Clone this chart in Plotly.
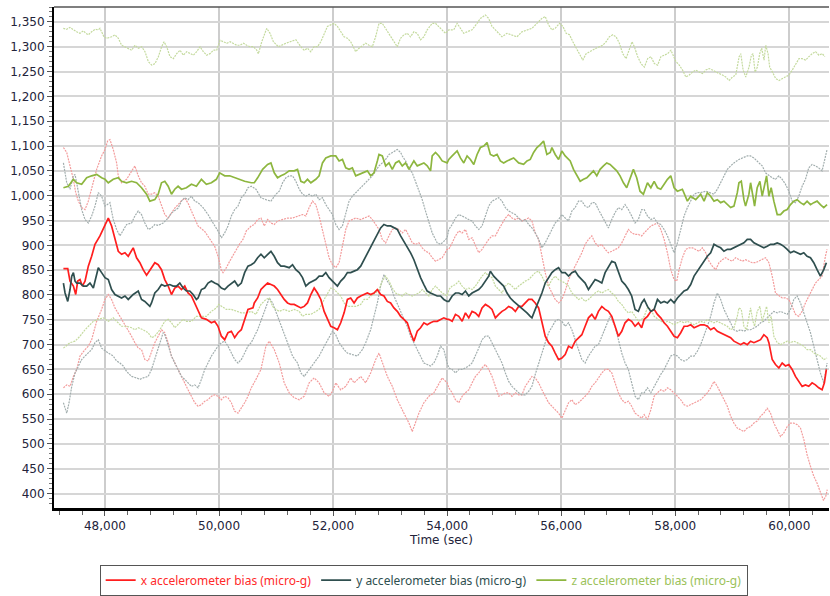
import plotly.graph_objects as go

# ---------------- data (time in sec, bias in micro-g) ----------------
X_MEAN = [(47271,853),(47347,853),(47387,828),(47446,818),(47487,801),(47522,828),(47562,831),(47603,818),(47650,828),(47708,858),(47766,878),(47825,902),(47912,919),(48000,939),(48058,955),(48116,939),(48175,912),(48233,888),(48291,882),(48350,885),(48408,878),(48495,895),(48554,875),(48612,865),(48670,851),(48729,840),(48787,850),(48874,865),(48933,861),(48991,851),(49049,831),(49108,818),(49166,801),(49224,814),(49282,818),(49341,811),(49399,818),(49457,804),(49516,798),(49574,784),(49632,767),(49691,754),(49778,751),(49866,744),(49924,747),(49982,737),(50041,717),(50099,710),(50157,724),(50216,727),(50274,714),(50332,724),(50391,730),(50449,751),(50507,771),(50595,774),
          (50618,784),(50677,794),(50735,811),(50793,818),(50852,824),(50910,821),(50968,818),(51026,811),(51085,801),(51143,791),(51201,784),(51260,781),(51318,781),(51376,777),(51435,774),(51493,777),(51551,784),(51610,801),(51668,814),(51726,804),(51785,791),(51843,767),(51901,751),(51959,737),(52018,734),(52076,730),(52134,744),(52193,764),(52251,791),(52309,794),(52368,784),(52426,794),(52484,798),(52543,801),(52601,804),(52659,801),(52717,804),(52776,811),(52834,801),(52892,798),(52951,787),(53009,784),(53067,774),(53126,767),(53184,757),(53242,751),(53301,744),(53359,724),(53417,707),(53476,727),(53534,734),(53592,744),(53650,740),(53709,744),(53767,747),(53825,747),(53884,751),(53942,754),(54000,751),
          (54029,751),(54088,747),(54146,761),(54204,757),(54263,747),(54321,764),(54379,754),(54437,767),(54496,764),(54554,757),(54612,774),(54671,781),(54729,777),(54787,771),(54846,754),(54904,761),(54962,767),(55021,771),(55079,777),(55137,774),(55196,767),(55254,777),(55312,777),(55370,784),(55429,791),(55487,791),(55545,784),(55604,774),(55662,747),(55720,717),(55779,704),(55837,697),(55895,683),(55954,670),(56012,673),(56070,680),(56129,697),(56187,693),(56245,707),(56303,714),(56362,720),(56420,737),(56478,754),(56537,761),(56595,751),(56653,767),(56712,777),(56770,771),(56828,767),(56887,757),(56945,737),(57003,717),(57062,727),(57120,744),(57178,751),(57236,747),(57295,737),(57353,744),(57411,734),
          (57455,751),(57513,757),(57572,767),(57630,771),(57688,761),(57746,754),(57805,744),(57863,737),(57921,727),(57980,717),(58038,714),(58096,724),(58155,737),(58213,737),(58271,740),(58330,734),(58388,737),(58446,740),(58505,740),(58563,737),(58621,730),(58679,734),(58738,727),(58796,724),(58854,720),(58913,717),(58971,714),(59029,707),(59088,704),(59146,700),(59204,704),(59263,700),(59321,707),(59379,704),(59437,707),(59496,710),(59554,720),(59612,714),(59642,704),(59671,690),(59700,670),(59758,660),(59817,653),(59875,663),(59933,657),(59992,660),(60050,650),(60108,636),(60166,626),(60225,616),(60283,619),(60341,616),(60400,623),(60458,619),(60516,613),(60575,609),(60615,623),(60650,650)]

X_UPPER = [(47271,1097),(47329,1087),(47387,1060),(47446,1033),(47487,1006),(47533,989),(47591,976),(47650,972),(47708,989),(47766,1013),(47854,1053),(47941,1080),(48000,1093),(48046,1110),(48087,1113),(48145,1093),(48204,1066),(48233,1040),(48291,1026),(48379,1033),(48466,1050),(48524,1060),(48583,1040),(48641,1026),(48699,1019),(48758,1003),(48816,1003),(48874,1006),(48933,999),(48991,979),(49049,962),(49108,955),(49166,965),(49224,975),(49282,982),(49341,990),(49399,995),(49457,985),(49516,969),(49574,952),(49632,939),(49749,928),(49836,912),(49924,898),(49982,878),(50041,850),(50070,845),(50128,855),(50187,868),(50245,880),(50303,893),(50362,903),(50420,912),(50478,929),(50565,939),
           (50618,942),(50677,952),(50735,955),(50793,939),(50852,952),(50910,945),(50968,942),(51026,949),(51114,952),(51201,955),(51289,955),(51376,959),(51464,962),(51522,959),(51580,976),(51639,989),(51697,982),(51755,959),(51814,932),(51872,902),(51930,875),(51989,861),(52047,855),(52105,865),(52164,902),(52222,932),(52280,949),(52338,952),(52397,955),(52484,952),(52543,955),(52630,959),(52688,952),(52747,942),(52805,932),(52863,912),(52922,905),(52980,919),(53038,932),(53096,935),(53155,932),(53213,925),(53271,932),(53330,919),(53388,905),(53446,902),(53505,905),(53563,895),(53621,888),(53680,885),(53738,875),(53796,868),(53855,871),(53913,875),(54000,892),
           (54029,892),(54088,905),(54146,919),(54204,929),(54263,925),(54321,932),(54379,912),(54437,915),(54496,898),(54554,885),(54612,892),(54671,902),(54729,912),(54787,919),(54846,919),(54904,932),(54962,945),(55021,955),(55079,962),(55137,955),(55196,952),(55254,955),(55312,949),(55370,952),(55429,955),(55487,949),(55545,925),(55604,912),(55662,878),(55720,845),(55779,818),(55837,804),(55895,791),(55954,784),(56012,791),(56070,808),(56129,831),(56187,845),(56245,858),(56303,871),(56362,885),(56420,902),(56478,912),(56537,919),(56595,905),(56653,898),(56712,902),(56770,892),(56828,885),(56887,888),(56945,892),(57003,895),(57062,905),(57120,919),(57178,932),(57236,925),(57295,922),(57353,922),(57411,919),
           (57455,925),(57513,932),(57572,939),(57630,942),(57688,945),(57746,932),(57805,912),(57863,885),(57921,851),(57980,831),(58026,828),(58067,851),(58125,875),(58184,892),(58242,895),(58300,895),(58359,892),(58417,888),(58475,895),(58534,885),(58592,868),(58650,858),(58709,851),(58767,865),(58825,871),(58884,875),(58942,871),(59000,868),(59058,875),(59117,871),(59175,868),(59233,871),(59292,868),(59350,865),(59408,865),(59467,868),(59525,871),(59583,875),(59642,865),(59700,838),(59758,804),(59817,798),(59875,794),(59933,794),(59992,791),(60050,777),(60108,761),(60166,757),(60225,767),(60283,784),(60341,798),(60400,811),(60458,824),(60516,831),(60575,838),(60633,878),(60662,892)]

X_LOWER = [(47271,613),(47329,619),(47387,616),(47446,636),(47504,650),(47562,677),(47650,690),(47708,697),(47766,710),(47854,747),(47941,771),(48000,791),(48058,801),(48116,791),(48175,774),(48262,757),(48350,740),(48408,730),(48466,717),(48524,704),(48583,693),(48641,690),(48699,670),(48758,667),(48816,687),(48874,704),(48933,717),(48991,730),(49049,724),(49108,704),(49166,677),(49224,663),(49282,650),(49341,636),(49399,623),(49457,609),(49516,596),(49574,583),(49632,576),(49691,579),(49749,586),(49807,589),(49866,596),(49924,599),(49982,596),(50041,589),(50099,596),(50157,593),(50216,583),(50274,566),(50332,562),(50391,572),(50449,583),(50507,596),(50565,613),
           (50647,630),(50735,650),(50822,697),(50881,707),(50968,690),(51056,663),(51143,623),(51231,603),(51318,593),(51406,589),(51493,596),(51580,623),(51668,633),(51755,623),(51843,603),(51930,596),(51989,606),(52047,623),(52134,609),(52222,616),(52309,633),(52368,623),(52484,636),(52572,623),(52659,643),(52747,670),(52805,683),(52863,663),(52951,636),(53038,616),(53126,589),(53242,562),(53330,542),(53388,525),(53446,542),(53505,562),(53592,583),(53680,596),(53767,603),(53855,623),(53913,633),(54000,623),
           (54029,613),(54088,603),(54146,589),(54204,583),(54263,596),(54321,603),(54379,609),(54437,623),(54496,636),(54554,643),(54612,653),(54671,660),(54729,650),(54787,636),(54846,616),(54904,596),(54962,599),(55021,603),(55079,603),(55137,596),(55196,603),(55254,599),(55312,599),(55370,616),(55429,626),(55487,636),(55545,633),(55604,623),(55662,609),(55720,596),(55779,583),(55837,576),(55895,569),(55954,562),(56012,552),(56070,569),(56129,583),(56187,589),(56245,579),(56303,583),(56362,589),(56420,596),(56478,603),(56537,616),(56595,623),(56653,633),(56712,643),(56770,650),(56828,650),(56887,643),(56945,623),(57003,603),(57062,589),(57120,583),(57178,586),(57236,576),(57295,562),(57353,556),(57411,552),
           (57455,559),(57513,549),(57572,569),(57630,596),(57688,603),(57746,609),(57805,606),(57863,613),(57921,609),(57980,603),(58038,596),(58096,589),(58155,579),(58213,576),(58271,579),(58330,583),(58388,586),(58446,589),(58505,596),(58563,603),(58621,613),(58679,626),(58738,616),(58796,603),(58854,589),(58913,576),(58971,556),(59029,542),(59088,532),(59146,529),(59204,525),(59263,532),(59321,535),(59379,542),(59437,546),(59496,556),(59554,562),(59612,572),(59671,562),(59729,542),(59788,529),(59846,515),(59904,522),(59963,535),(60021,542),(60079,542),(60137,539),(60196,532),(60254,509),(60312,478),(60371,455),(60429,435),(60487,421),(60545,405),(60600,386),(60640,395),(60665,408)]

Y_MEAN = [(47271,824),(47300,804),(47347,787),(47387,811),(47417,838),(47446,845),(47475,828),(47504,824),(47562,824),(47621,818),(47679,818),(47737,824),(47796,814),(47854,845),(47883,855),(47941,845),(48000,835),(48058,831),(48116,811),(48175,801),(48233,798),(48291,794),(48350,798),(48408,791),(48495,801),(48583,808),(48641,791),(48699,787),(48787,777),(48816,784),(48874,804),(48933,811),(48991,821),(49049,818),(49137,821),(49195,818),(49253,818),(49312,824),(49370,814),(49428,808),(49487,808),(49545,801),(49603,791),(49632,794),(49691,811),(49749,814),(49807,824),(49866,828),(49924,824),(49982,821),(50041,814),(50099,811),(50157,818),(50216,824),(50274,828),(50332,818),(50391,824),(50449,845),(50507,858),(50565,861),
          (50618,865),(50677,875),(50735,882),(50793,875),(50852,882),(50910,888),(50968,878),(51026,865),(51085,858),(51143,858),(51230,855),(51289,861),(51347,851),(51406,845),(51464,835),(51522,818),(51580,824),(51639,828),(51697,831),(51755,838),(51814,838),(51872,845),(51930,835),(51989,828),(52076,818),(52134,828),(52193,835),(52251,845),(52309,845),(52368,848),(52426,851),(52484,858),(52543,871),(52601,885),(52659,895),(52717,908),(52776,922),(52834,935),(52892,942),(52951,939),(53009,939),(53067,935),(53126,932),(53184,919),(53242,908),(53301,898),(53359,885),(53417,871),(53476,851),(53534,835),(53592,821),(53650,808),(53709,804),(53767,801),(53825,798),(53884,798),(53942,791),(54000,787),
          (54029,787),(54088,798),(54146,804),(54204,804),(54263,801),(54321,808),(54379,798),(54437,804),(54496,808),(54554,811),(54612,818),(54671,828),(54729,838),(54758,848),(54816,838),(54875,831),(54933,824),(54991,818),(55050,804),(55108,794),(55166,787),(55225,781),(55283,777),(55341,771),(55400,764),(55458,757),(55487,754),(55545,771),(55604,787),(55662,804),(55720,824),(55779,835),(55837,845),(55895,851),(55954,855),(56012,845),(56070,845),(56129,838),(56187,845),(56245,848),(56303,838),(56362,831),(56420,824),(56478,811),(56537,821),(56595,831),(56653,828),(56712,824),(56770,845),(56828,858),(56887,868),(56945,865),(57003,848),(57062,828),(57120,821),(57178,811),(57236,798),(57295,771),(57353,767),(57411,784),
          (57455,791),(57513,777),(57572,767),(57630,771),(57688,791),(57746,784),(57805,787),(57863,784),(57921,791),(57980,784),(58038,794),(58096,801),(58155,808),(58213,811),(58271,821),(58330,838),(58388,848),(58446,858),(58505,868),(58563,878),(58621,885),(58679,902),(58738,898),(58796,895),(58854,888),(58913,892),(58971,892),(59029,895),(59088,898),(59146,902),(59204,905),(59263,912),(59321,912),(59379,905),(59437,902),(59496,898),(59554,895),(59612,898),(59671,902),(59729,902),(59788,905),(59846,902),(59904,898),(59963,892),(60021,885),(60079,888),(60137,885),(60196,882),(60254,885),(60312,878),(60371,875),(60429,865),(60487,851),(60545,838),(60604,851),(60650,865)]

Y_UPPER = [(47271,1066),(47329,1026),(47387,1013),(47446,1040),(47475,1043),(47533,1006),(47591,972),(47650,952),(47708,945),(47766,959),(47825,979),(47883,1006),(47941,999),(48000,979),(48087,986),(48145,952),(48204,932),(48262,919),(48320,932),(48379,942),(48466,945),(48524,959),(48583,969),(48641,962),(48699,945),(48758,932),(48816,935),(48874,942),(48933,940),(49020,945),(49108,955),(49166,965),(49224,970),(49282,975),(49341,989),(49399,996),(49457,992),(49516,999),(49574,989),(49632,986),(49720,976),(49807,962),(49895,945),(49982,929),(50041,915),(50099,925),(50157,939),(50216,959),(50274,972),(50332,979),(50391,996),(50449,1003),(50507,1016),(50565,1019),
           (50647,1013),(50735,996),(50822,992),(50910,989),(50997,1003),(51056,1009),(51114,1026),(51172,1036),(51231,1040),(51289,1040),(51347,1029),(51406,1013),(51464,1003),(51522,999),(51580,1003),(51639,999),(51697,1003),(51755,992),(51814,996),(51872,982),(51930,972),(51989,962),(52047,942),(52105,932),(52164,939),(52222,962),(52280,989),(52338,999),(52397,1006),(52455,1013),(52543,1023),(52630,1033),(52688,1040),(52747,1050),(52805,1060),(52863,1066),(52922,1073),(52980,1083),(53067,1090),(53126,1093),(53184,1087),(53213,1080),(53271,1070),(53330,1056),(53388,1046),(53446,1029),(53505,1009),(53563,992),(53621,969),(53680,945),(53738,925),(53825,905),(53884,902),(53942,908),(54000,915),
           (54029,932),(54088,942),(54146,955),(54204,962),(54263,959),(54321,955),(54379,952),(54437,949),(54496,939),(54554,932),(54612,939),(54671,959),(54729,979),(54787,989),(54846,992),(54904,996),(54962,989),(55021,976),(55079,969),(55137,966),(55196,962),(55254,955),(55312,949),(55370,952),(55429,942),(55487,935),(55545,925),(55604,912),(55662,895),(55720,905),(55779,919),(55837,932),(55895,945),(55954,952),(56012,962),(56070,955),(56129,949),(56187,969),(56245,976),(56303,989),(56362,989),(56420,979),(56478,976),(56537,986),(56595,986),(56653,972),(56712,959),(56770,949),(56828,935),(56887,952),(56945,966),(57003,976),(57062,972),(57120,982),(57178,972),(57236,959),(57295,945),(57353,952),(57411,972),
           (57455,972),(57513,959),(57572,952),(57630,955),(57688,945),(57746,942),(57805,932),(57863,919),(57921,902),(57980,885),(58038,905),(58096,932),(58155,959),(58213,976),(58271,989),(58330,1003),(58388,1006),(58446,1006),(58534,1009),(58621,1006),(58679,1003),(58738,1013),(58796,1026),(58854,1040),(58913,1053),(58971,1060),(59029,1066),(59117,1073),(59175,1076),(59263,1080),(59321,1080),(59379,1076),(59467,1066),(59525,1060),(59583,1046),(59642,1040),(59700,1036),(59758,1033),(59817,1040),(59875,1033),(59933,1023),(59992,1009),(60050,989),(60108,986),(60166,999),(60225,1019),(60283,1033),(60341,1056),(60400,1063),(60458,1060),(60516,1056),(60575,1050),(60633,1080),(60662,1093)]

Y_LOWER = [(47271,583),(47329,562),(47370,583),(47417,616),(47475,643),(47533,657),(47591,670),(47650,677),(47708,683),(47766,690),(47825,704),(47883,710),(47941,693),(48000,687),(48058,683),(48145,677),(48204,667),(48262,663),(48320,657),(48379,646),(48466,636),(48554,633),(48612,630),(48670,633),(48758,636),(48816,650),(48874,670),(48933,690),(48991,710),(49020,724),(49049,720),(49108,697),(49166,677),(49224,663),(49282,650),(49341,636),(49399,630),(49457,623),(49516,616),(49574,619),(49632,613),(49691,630),(49749,650),(49807,663),(49866,677),(49924,687),(49982,697),(50041,704),(50099,707),(50157,697),(50216,683),(50274,670),(50332,663),(50391,670),(50449,683),(50507,697),(50565,704),
           (50618,717),(50677,730),(50764,757),(50881,794),(50939,784),(51026,757),(51114,730),(51201,704),(51289,677),(51376,663),(51435,643),(51493,636),(51580,650),(51668,663),(51755,677),(51814,690),(51901,710),(51989,727),(52047,720),(52105,704),(52193,690),(52251,683),(52338,680),(52426,677),(52513,690),(52572,704),(52659,730),(52717,757),(52776,784),(52834,818),(52892,841),(52951,828),(53009,818),(53067,798),(53126,784),(53184,767),(53242,751),(53301,737),(53359,717),(53417,704),(53476,690),(53534,677),(53592,663),(53650,660),(53709,657),(53767,663),(53825,677),(53884,697),(53942,690),(54000,663),
           (54029,653),(54088,650),(54146,643),(54204,650),(54263,650),(54321,653),(54379,657),(54437,663),(54496,677),(54554,693),(54612,710),(54671,717),(54729,717),(54787,704),(54846,690),(54904,677),(54962,663),(55021,643),(55079,626),(55137,616),(55196,609),(55254,603),(55312,599),(55370,599),(55429,606),(55487,616),(55545,640),(55604,663),(55662,683),(55720,704),(55779,724),(55837,737),(55895,747),(55954,751),(56012,747),(56070,737),(56129,744),(56187,730),(56245,710),(56303,690),(56362,670),(56420,663),(56478,677),(56537,687),(56595,697),(56653,700),(56712,717),(56770,734),(56828,747),(56857,757),(56887,751),(56945,737),(57003,710),(57062,683),(57120,663),(57178,650),(57236,623),(57295,596),(57353,589),(57411,603),
           (57455,603),(57513,613),(57572,603),(57630,616),(57688,630),(57746,640),(57805,650),(57863,663),(57921,677),(57980,680),(58038,677),(58096,670),(58155,667),(58213,670),(58271,677),(58330,677),(58388,687),(58446,700),(58505,717),(58563,737),(58621,757),(58679,784),(58738,804),(58796,791),(58854,771),(58913,757),(58971,744),(59029,730),(59088,727),(59146,730),(59204,727),(59263,730),(59321,730),(59379,734),(59437,737),(59496,744),(59554,747),(59612,754),(59671,761),(59729,767),(59788,764),(59846,767),(59904,764),(59963,761),(60021,771),(60079,791),(60137,798),(60196,784),(60254,764),(60312,744),(60371,724),(60429,697),(60487,670),(60545,643),(60604,623),(60633,643),(60662,663)]

Z_MEAN = [(47271,1016),(47358,1019),(47446,1033),(47504,1026),(47591,1023),(47679,1036),(47766,1040),(47854,1043),(47941,1036),(48000,1033),(48058,1026),(48145,1033),(48233,1036),(48291,1029),(48379,1026),(48466,1029),(48554,1026),(48641,1016),(48729,1003),(48787,989),(48874,992),(48933,1003),(48991,1026),(49049,1029),(49108,1019),(49166,1003),(49224,1013),(49282,1019),(49341,1013),(49428,1016),(49516,1023),(49603,1019),(49691,1033),(49778,1023),(49866,1026),(49953,1033),(50011,1046),(50099,1040),(50187,1040),(50274,1036),(50362,1033),(50449,1029),(50565,1026),
          (50618,1026),(50677,1036),(50764,1053),(50852,1063),(50910,1066),(50968,1046),(51026,1036),(51085,1040),(51143,1043),(51230,1050),(51318,1050),(51376,1053),(51435,1029),(51493,1026),(51551,1033),(51610,1026),(51697,1033),(51755,1040),(51814,1066),(51872,1076),(51959,1080),(52047,1080),(52105,1070),(52164,1073),(52222,1056),(52280,1053),(52338,1056),(52397,1040),(52455,1043),(52513,1046),(52601,1050),(52659,1040),(52717,1046),(52776,1070),(52805,1083),(52863,1080),(52922,1060),(52980,1066),(53038,1053),(53096,1066),(53155,1070),(53213,1060),(53271,1066),(53330,1053),(53417,1070),(53476,1060),(53534,1063),(53592,1066),(53650,1060),(53709,1050),(53738,1080),(53796,1087),(53855,1080),(53913,1070),(54000,1066),
          (54029,1073),(54088,1080),(54175,1090),(54233,1076),(54292,1066),(54350,1080),(54408,1073),(54467,1063),(54525,1083),(54583,1097),(54642,1100),(54700,1107),(54758,1083),(54816,1080),(54875,1083),(54933,1070),(54991,1066),(55050,1070),(55108,1073),(55166,1076),(55254,1066),(55341,1063),(55400,1070),(55458,1073),(55516,1087),(55575,1097),(55633,1103),(55691,1110),(55749,1083),(55808,1087),(55837,1097),(55895,1083),(55954,1073),(56012,1090),(56070,1080),(56158,1070),(56216,1053),(56274,1040),(56333,1029),(56391,1033),(56449,1036),(56507,1043),(56566,1050),(56624,1040),(56682,1053),(56741,1060),(56799,1066),(56857,1063),(56916,1056),(56974,1050),(57032,1040),(57091,1026),(57149,1016),(57207,1033),(57266,1053),(57324,1036),(57382,1009),(57441,1003),
          (57513,1026),(57572,1016),(57630,1029),(57688,1016),(57746,1013),(57805,1023),(57863,1033),(57921,1040),(57980,1016),(58038,1009),(58125,1013),(58213,989),(58271,999),(58359,992),(58446,1003),(58505,989),(58563,1006),(58621,999),(58679,989),(58738,992),(58796,986),(58854,989),(58913,982),(58971,976),(59029,979),(59088,1006),(59117,1026),(59158,1029),(59204,992),(59233,979),(59292,1003),(59321,1026),(59362,999),(59391,979),(59437,1016),(59484,1029),(59525,999),(59566,1023),(59601,1040),(59642,999),(59682,1016),(59729,989),(59788,962),(59846,962),(59904,969),(59963,972),(60021,982),(60079,989),(60137,992),(60196,986),(60254,982),(60312,989),(60371,982),(60429,986),(60487,989),(60545,982),(60604,976),(60662,982)]

Z_UPPER = [(47269,1337),(47327,1335),(47386,1339),(47444,1334),(47503,1330),(47561,1327),(47620,1332),(47667,1327),(47708,1324),(47766,1330),(47825,1335),(47883,1334),(47912,1337),(47942,1330),(47982,1320),(48029,1317),(48117,1320),(48175,1324),(48234,1317),(48292,1303),(48351,1300),(48409,1297),(48468,1293),(48526,1303),(48585,1297),(48643,1300),(48702,1290),(48760,1270),(48819,1263),(48877,1266),(48936,1280),(48994,1300),(49035,1310),(49082,1300),(49140,1280),(49199,1276),(49257,1286),(49316,1293),(49374,1283),(49433,1290),(49491,1286),(49550,1283),(49608,1290),(49667,1300),(49725,1290),(49784,1283),(49842,1286),(49901,1293),(49959,1293),(50018,1313),(50076,1310),(50135,1307),(50193,1310),(50251,1307),(50310,1303),(50368,1303),(50427,1307),(50485,1303),(50544,1300),(50602,1300),(50661,1293),(50690,1286),(50749,1310),(50836,1337),(50895,1327),(50953,1310),(51041,1300),
           (51172,1307),(51260,1310),(51347,1314),(51434,1300),(51493,1293),(51551,1297),(51609,1290),(51668,1300),(51726,1300),(51784,1310),(51843,1327),(51901,1341),(51959,1344),(52017,1347),(52076,1341),(52134,1330),(52192,1320),(52251,1317),(52309,1310),(52367,1297),(52396,1290),(52455,1297),(52513,1303),(52571,1307),(52630,1303),(52688,1300),(52746,1320),(52805,1347),(52863,1347),(52921,1337),(52979,1327),(53038,1317),(53096,1307),(53125,1300),(53183,1317),(53242,1324),(53300,1327),(53358,1320),(53417,1330),(53475,1327),(53533,1314),(53592,1320),(53650,1334),(53737,1347),(53796,1347),(53854,1341),(53912,1334),(53971,1327),(54029,1334),(54116,1334),(54175,1347),(54233,1337),(54291,1327),(54349,1330),(54437,1334),(54524,1347),(54583,1357),(54670,1364),(54728,1357),(54787,1341),(54845,1334),(54903,1327),(54962,1320),(55049,1327),(55137,1324),(55224,1320),(55311,1330),(55399,1334),(55486,1337),(55574,1347),(55661,1357),(55720,1361),(55778,1344),(55836,1334),(55894,1337),
           (55971,1347),(56029,1341),(56087,1327),(56146,1324),(56204,1310),(56262,1297),(56321,1283),(56379,1273),(56437,1286),(56496,1290),(56554,1293),(56612,1297),(56671,1300),(56729,1303),(56787,1310),(56845,1320),(56904,1324),(56962,1320),(57020,1307),(57079,1286),(57137,1276),(57195,1293),(57242,1310),(57283,1300),(57341,1280),(57399,1266),(57458,1259),(57516,1276),(57574,1280),(57633,1266),(57691,1263),(57749,1280),(57808,1283),(57866,1286),(57924,1293),(57965,1283),(58012,1270),(58070,1263),(58128,1253),(58187,1239),(58245,1243),(58303,1249),(58362,1253),(58420,1249),(58478,1246),(58536,1253),(58595,1256),(58653,1253),(58711,1249),(58770,1246),(58828,1243),(58886,1239),(58945,1232),(59003,1239),(59061,1243),(59120,1280),(59149,1286),(59190,1253),(59236,1239),(59294,1259),(59335,1283),(59364,1286),(59399,1249),(59440,1259),(59481,1286),(59516,1297),(59557,1273),(59586,1303),(59627,1286),(59656,1259),(59703,1249),(59761,1236),(59819,1232),(59877,1236),(59936,1239),(59994,1243),(60052,1253),(60111,1266),(60169,1276),(60227,1276),(60286,1273),(60344,1280),(60402,1286),(60461,1290),(60519,1283),(60577,1286),(60624,1280)]

Z_LOWER = [(47271,693),(47387,704),(47475,707),(47562,717),(47650,730),(47708,737),(47796,747),(47883,751),(47970,754),(48058,747),(48145,754),(48204,747),(48291,737),(48379,737),(48466,734),(48524,730),(48583,734),(48670,730),(48758,724),(48816,714),(48874,717),(48962,730),(49049,747),(49108,751),(49166,744),(49224,734),(49282,740),(49370,751),(49428,747),(49516,747),(49603,757),(49691,757),(49778,757),(49866,767),(49953,774),(49994,781),(50041,777),(50128,771),(50216,771),(50303,767),(50391,764),(50478,764),(50565,767),
           (50647,761),(50735,781),(50822,791),(50881,794),(50939,777),(50997,771),(51056,767),(51143,771),(51231,767),(51318,771),(51406,767),(51464,757),(51522,761),(51610,761),(51697,767),(51755,771),(51843,791),(51901,804),(51959,814),(52018,811),(52076,804),(52134,798),(52193,784),(52251,777),(52309,777),(52397,777),(52484,781),(52543,791),(52601,791),(52659,798),(52747,804),(52805,811),(52863,828),(52922,838),(52980,828),(53038,814),(53096,804),(53155,801),(53213,798),(53271,804),(53330,801),(53388,798),(53446,801),(53505,804),(53563,811),(53621,804),(53680,798),(53738,811),(53796,818),(53855,811),(53913,804),(54000,798),
           (54029,811),(54088,818),(54146,821),(54204,828),(54263,818),(54321,811),(54379,814),(54437,811),(54496,818),(54554,828),(54612,838),(54671,845),(54729,838),(54787,835),(54846,818),(54904,811),(54962,804),(55021,818),(55079,824),(55137,818),(55196,811),(55254,818),(55312,824),(55370,828),(55429,831),(55487,838),(55545,845),(55604,848),(55662,838),(55720,824),(55779,818),(55837,831),(55895,838),(55954,831),(56012,828),(56070,824),(56129,818),(56187,804),(56245,798),(56303,791),(56362,794),(56420,787),(56478,791),(56537,798),(56595,804),(56653,808),(56712,804),(56770,808),(56828,811),(56887,804),(56945,798),(57003,787),(57062,781),(57120,771),(57178,764),(57236,767),(57295,757),(57353,747),(57411,751),
           (57455,757),(57513,774),(57572,771),(57630,757),(57688,751),(57746,747),(57805,744),(57863,747),(57921,744),(57980,740),(58038,744),(58096,747),(58155,744),(58213,747),(58271,744),(58330,740),(58388,744),(58446,747),(58505,744),(58563,751),(58621,747),(58679,744),(58738,747),(58796,744),(58854,740),(58913,737),(58971,730),(59029,734),(59088,757),(59117,774),(59158,771),(59204,737),(59251,730),(59292,757),(59321,774),(59362,747),(59391,737),(59437,767),(59484,777),(59525,747),(59566,761),(59601,777),(59642,744),(59682,757),(59729,717),(59788,704),(59846,700),(59904,704),(59963,707),(60021,704),(60079,707),(60137,704),(60196,700),(60254,697),(60312,690),(60371,690),(60429,683),(60487,680),(60545,677),(60604,670),(60662,673)]

SERIES_NAMES = ["x accelerometer bias (micro-g)",
                "y accelerometer bias (micro-g)",
                "z accelerometer bias (micro-g)"]
X_TICKS = [48000, 50000, 52000, 54000, 56000, 58000, 60000]

# ---------------- styling ----------------
MAIN_COLORS = ["#FF1E1E", "#2F4F4F", "#8DB63F"]
BAND_COLORS = ["#F39C9C", "#A2AEAE", "#C4DA9E"]
LEGEND_TEXT = ["#FF2A2A", "#2F4F4F", "#9BC25A"]

fig = go.Figure()

def add_band(pairs, color):
    t, v = zip(*pairs)
    fig.add_trace(go.Scatter(x=list(t), y=list(v), mode="lines",
                             line=dict(color=color, width=1.2, dash="2px,1px"),
                             showlegend=False, hoverinfo="skip"))

for up, lo, c in [(X_UPPER, X_LOWER, BAND_COLORS[0]),
                  (Y_UPPER, Y_LOWER, BAND_COLORS[1]),
                  (Z_UPPER, Z_LOWER, BAND_COLORS[2])]:
    add_band(up, c)
    add_band(lo, c)

for pairs, name, c, tc in zip([X_MEAN, Y_MEAN, Z_MEAN], SERIES_NAMES,
                              MAIN_COLORS, LEGEND_TEXT):
    t, v = zip(*pairs)
    fig.add_trace(go.Scatter(x=list(t), y=list(v), mode="lines",
                             line=dict(color=c, width=1.7),
                             name=f"<span style='color:{tc}'>{name}</span>"))

tick_font = dict(family="DejaVu Sans", size=12, color="#23233a")

fig.update_layout(
    width=830, height=596, autosize=False,
    margin=dict(l=54, r=1, t=7, b=88, pad=0, autoexpand=False),
    paper_bgcolor="white", plot_bgcolor="white",
    showlegend=True,
    legend=dict(orientation="h", x=0.477, xanchor="center",
                y=-0.113, yanchor="top",
                bordercolor="#555555", borderwidth=1,
                font=dict(family="Noto Sans", size=12),
                itemwidth=30, tracegroupgap=0, bgcolor="white"),
    xaxis=dict(range=[47106, 60696], tickvals=X_TICKS, tickformat=",d",
               automargin=False,
               showgrid=True, gridcolor="#CDCDCD", gridwidth=1.5,
               showline=True, linecolor="black", linewidth=3,
               ticks="outside", ticklen=5, tickcolor="#555", tickwidth=1,
               minor=dict(dtick=400, tick0=48000, ticks="outside", ticklen=4,
                          tickcolor="#666", showgrid=False),
               zeroline=False, tickfont=tick_font,
               title=dict(text="Time (sec)", font=tick_font, standoff=2)),
    yaxis=dict(range=[371, 1380], dtick=50, tick0=400, tickformat=",d",
               automargin=False,
               showgrid=True, gridcolor="#D6D6D6", gridwidth=2,
               showline=True, linecolor="black", linewidth=2,
               ticks="outside", ticklen=5, tickcolor="#555", tickwidth=1,
               minor=dict(dtick=10, ticks="outside", ticklen=3,
                          tickcolor="#777", showgrid=False),
               zeroline=False, tickfont=tick_font),
    shapes=[dict(type="line", xref="paper", yref="paper", x0=0, x1=1, y0=1, y1=1,
                 line=dict(color="#555555", width=1.5))],
)

fig.write_html("out.html", config={"displayModeBar": False},
               post_script="document.body.style.margin='0';document.body.style.overflow='hidden';")
